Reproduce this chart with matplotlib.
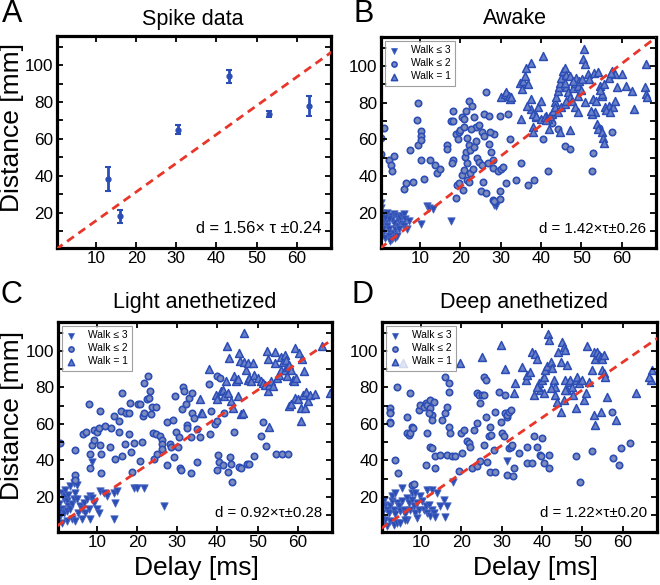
import numpy as np
from matplotlib import pyplot as plt

plt.rcParams['font.family'] = ['Liberation Sans', 'DejaVu Sans']

#---- Data (delay [ms], distance [mm])

spike_x   = [13, 16, 30.5, 43, 53, 63]
spike_y   = [38, 18, 65, 94, 73.5, 78]
spike_err = [6.5, 3.5, 2.5, 3.5, 1.5, 5.5]

b_down = [(0.3,25.4),(0.4,22.7),(0.3,20),(0.5,18.2),(0.9,16.4),(1.3,14.6),(1.75,12.8),(2.2,11),(2.6,9.2),
          (0.75,9.2),(0.25,6.5),(1.3,6.5),(2.2,7.4),(3,5.6),(3.4,8.3),(3.8,11),(4.25,12.8),(3.4,14.6),
          (3,16.4),(2.6,18.2),(3.4,19.1),(4.25,18.2),(4.7,15.5),(5.1,17.3),(5.5,18.5),(5.9,19.1),(6.3,16.4),
          (5.5,13.7),(4.7,11),(3.8,6.5),(1.75,20),(2.2,16.4),(0.9,11),(0.4,12.8),(1.3,17.3),(7.2,15.5),
          (4.25,7.4),(10.1,13.7),(11.75,23.6),(12.2,22.7),(13.25,22.1),(17.6,15.5),(28.4,24.5),(28.8,23.6),
          (5.9,12.8),(6.75,11),(2.6,4.7)]
b_mid = [(0.2,52),(1,66),(0.3,61),(2.4,48.7),(2.75,46),(3,42.5),(3.4,51),(6,33),(6.5,36),(8.2,36.5),
         (7.6,54),(9.25,70.3),(9.5,80),(9.4,57),(10.3,64.5),(10.3,62),(10.3,59.5),(10.25,49),(11,38.5),
         (12.4,49),(13.6,46),(14.25,41.5),(15,43.7),(16.6,57),(16.75,55),(17.6,70),(18.25,75.7),(18.25,70),
         (18.25,49),(18,47.3),(19,63),(19.7,64),(20,65),(20.5,72),(21,71),(21.3,75.7),(22.2,81),(22.75,78),
         (19.25,35),(19,28),(19.75,36),(20.5,40.6),(21,43.3),(21.75,47),(21.1,50.5),(21.5,53),(22.2,56.8),
         (21.75,61),(22.4,54),(23.4,56),(20.75,32.6),(21.6,38),(22.4,41.5),(23,44),(23.4,72),(23.8,66.7),
         (24.7,67.6),(25.25,64),(25.75,62),(25.9,74),(24,49.6),(24.7,47.8),(25.25,46),(25.1,31.7),(26.3,31),
         (25.5,37),(26.3,85.6),(27.2,73),(27.2,57.7),(27.6,53.2),(28,48.7),(28,44.2),(28.4,63),(27.4,64),
         (28,27),(28.4,26.3),(29.7,27.5),(29.25,42.5),(30.1,44),(30.5,45),(29.7,31.7),(31.3,36),(33.8,38),
         (29.7,73),(32.4,60.4),(31.75,74),(34.9,47),(36.75,35.3),(38.25,38),(40.5,60.4),(41.75,42.5),
         (42.6,69),(44.25,65.5),(46,56.5),(47.2,55),(52.8,52.7),(54.4,66),(57.6,64),(52.6,42.5),
         (20.9,66.7),(22.6,65.5),(19.4,60),(23.9,59),(26.8,47),(22,36.5)]
b_up = [(30,83),(31,84.7),(31.4,85.6),(32,83.8),(32.2,82),(32.6,83),(34.9,71),(34.7,91),(35.25,87.4),
        (35.5,92),(35.9,94.6),(36.3,99),(36.75,90),(37.4,101.8),(37.4,82),(37.6,76.6),(38,74),(38.8,72),
        (36.6,78.4),(40.5,105.4),(38.8,73),(39.25,77.5),(40,81),(38,66.7),(38,64),(40,71),(41.25,73),
        (41.75,71),(42.6,74),(43.4,80.2),(43.8,83),(44.25,86.5),(44.4,88.3),(44.7,91),(45,93.5),(45.5,97.5),
        (45.9,99),(46.1,95),(46.3,88.5),(46.75,85.6),(47.2,83),(47.6,81),(48,87.8),(48.4,91),(48.6,93.5),
        (49.1,83.8),(49.25,89),(49.4,92),(49.9,87),(50.1,92.8),(50.5,103.6),(50.75,109),(50.9,100.9),
        (51.75,95.5),(53,96.4),(54.1,96.8),(54.7,89.2),(55.1,83.8),(55.9,77.5),(56.75,78.4),(57.75,77.5),
        (58.25,81),(56.75,93.7),(57.6,97),(58.4,95.5),(60,95.5),(58.8,88.3),(53.4,74.8),(53.8,68.5),
        (54.1,65.8),(55.1,64),(55.25,61),(55.5,58),(52.6,74),(52.4,75.7),(48.4,77.5),(49.25,74.8),
        (50.9,80.2),(47.2,65),(61,89.2),(62.6,86.5),(63,76.6),(65.75,88.7),(65.9,100.9),(65.9,84.7),
        (66.3,83),(42,65.8),(44.7,64),(45.9,91),(47.2,94.6),(48,92),(41,72),(41.3,70.3),(42.2,73),(43,75.7),
        (43.4,77.5),(44.25,74.8),(45,77.5),(45.9,79.3),(46.3,81),(56,76),(57,75),(55,85),(54.5,87),
        (52.8,82),(52,93),(53.5,81),(57.3,96),(55.5,90)]

c_down = [(1.25,22.2),(1.7,18.6),(2.1,20.4),(2.5,17.7),(2.9,15),(1.25,13.2),(0.8,9.6),(1.7,11.4),(2.5,12.3),
          (3.3,13.2),(3.75,15.9),(4.2,18.6),(2.9,21.3),(2.1,24),(3.3,25.8),(4.2,27.5),(4.6,28.4),(5,26.7),
          (4.6,22.2),(5,18.6),(5.8,15),(5.4,11.4),(6.25,13.2),(6.7,16.8),(7.5,18.6),(8.3,20.4),(8.75,19.5),
          (9.2,16.8),(7.1,11.4),(7.9,13.2),(10,13.2),(10.4,11.4),(10.8,23),(11.7,22.2),(12.5,20.4),
          (14.2,22.2),(14.2,7.8),(14.6,16.8),(15,23),(19.2,24.9),(20,24.9),(21.7,24.9),(26.7,15.3),
          (3.75,7.8),(4.6,6.9),(2.5,6.9),(1.25,6),(6.25,7.8),(8.3,7.8),(8.75,39.2),(0.6,16),(0.5,12)]
c_mid = [(0.7,49.5),(4.6,45.5),(4.6,32),(4.6,29.3),(6.5,54.5),(7.3,55.4),(7.9,71),(8.2,36),(8.3,43.7),
         (8.75,48.2),(9.2,56.7),(9.2,51),(10,55.4),(10.4,58),(10.7,67),(10.8,48.2),(11,43.7),(11,33),
         (12.1,59),(13.3,47.3),(13.5,58),(14.2,64.4),(14.6,41),(15.4,55.4),(15.4,61.7),(16,67),(16.25,77),
         (16.25,42.3),(17.1,49),(17.3,66.2),(17.9,65.7),(17.9,54.5),(18.3,71.6),(18.5,44.6),(18.6,33.8),
         (19.2,49.5),(20.2,70.7),(20.7,70.7),(20.8,39.8),(21.25,50),(21.5,64.4),(21.7,66.2),(21.8,82.4),
         (22.5,73.4),(22.7,86),(22.9,74.3),(23.2,78.2),(23.5,65.3),(23.75,69.3),(24,54.9),(24.2,41),
         (24.6,69.3),(24.6,54.2),(25,43.7),(25.7,53.6),(26.25,51),(26.25,48.8),(26.25,46.4),(27.5,37.4),
         (27.5,60.8),(28.3,49.1),(28.5,47.3),(29,62),(29.2,41.9),(29.3,75.2),(29.6,55.4),(30.2,47.3),
         (30.4,52.7),(30.6,35.6),(30.8,34.7),(31.25,68),(31.5,80),(31.7,77.9),(32.1,70.7),(32.3,59.6),
         (32.5,58),(32.9,74.3),(33.3,33),(33.5,52.7),(33.75,66.2),(33.75,77),(34.2,63.5),(35,39.2),
         (37.9,81.8),(38.25,54.5),(38.3,67),(39.3,60),(39.8,61.7),(40,86),(40.2,42.8),(40.4,39.2),
         (40,34.7),(40.7,85),(41.25,37.4),(41.5,66.2),(42.5,33.8),(43.2,41.9),(43.3,38.3),(43.6,28.4),
         (44.2,55.4),(45.4,36.5),(45.8,35.6),(47.3,38.3),(47.9,38.3),(49.2,42.3),(50.8,53.6),(51.25,61.3),
         (52,48),(54.6,43.7),(56,43.3),(57.5,43.3),(35,57.2),(35.7,52.7)]
c_up = [(35.7,73.4),(35.8,66.2),(36.25,66.2),(37.9,90),(39.6,76),(40,73.4),(40.8,77.9),(41.25,78.8),
        (41.7,75.2),(42.1,83.3),(42.3,102.7),(42.5,77),(42.9,95.9),(43.3,72.5),(43.75,68.9),(44.2,86),
        (44.6,83.3),(45,84.6),(45.2,75.2),(45.4,98.6),(45.7,94.4),(45.8,65.3),(46.25,66.2),(46.5,109.9),
        (46.7,94),(47.1,89.6),(47.5,84.2),(47.7,93.2),(47.9,85.1),(48.3,83.3),(48.75,93.2),(49.2,86.9),
        (50,85.1),(50.8,83.3),(51.25,82.4),(51.7,81.5),(52.3,99.8),(52.5,95.5),(52.5,77.9),(52.7,58.5),
        (52.9,81.5),(53.3,83.3),(53.75,80.6),(54.2,99.5),(54.3,93.2),(54.8,85.1),(55.2,86.9),(55.7,96.8),
        (55.8,89.6),(56.25,94),(56.7,97.7),(56.8,89.6),(57.1,95),(57.3,86),(57.5,91.4),(57.7,92.3),
        (57.9,69.8),(58.2,70.7),(58.3,89.6),(58.75,84.2),(59,83.3),(59.2,74.3),(59.3,101.3),(59.6,85.1),
        (60,73.4),(60.4,98.6),(60.7,68.9),(60.8,61.7),(61,95.5),(61.25,76),(61.5,88.7),(61.8,68.9),
        (62.1,77.5),(62.5,72.5),(62.9,76),(64.2,76.4),(66,102.5),(67.9,77)]

d_down = [(0.7,18.5),(1.1,15.8),(1.6,13.1),(2,11.3),(2.4,14.9),(2.8,17.6),(3.2,13.1),(3.6,10.4),(4,16.7),
          (4.4,14.9),(4.8,12.2),(5.3,17.6),(5.7,13.1),(6.1,10.4),(6.5,19.5),(6.9,16.7),(7.3,13.1),(7.8,18.5),
          (8.2,14.9),(8.6,11.3),(9,16.7),(9.4,13.1),(9.8,20.4),(10.2,17.6),(10.7,13.1),(11.1,14.9),(11.5,11.3),
          (11.9,15.8),(12.3,9.5),(12.7,13.1),(13.1,11.3),(13.5,9.1),(11.5,24),(12.7,23.6),(13.95,22.2),
          (5.3,24.9),(2.8,20.4),(3.6,22.2),(7.8,22.2),(8.6,22.2),(6.5,7.6),(2.4,6.7),(3.2,4.9),(4,5.8),
          (1.1,7.6),(1.6,4),(4.8,5.8),(15.6,18.5),(14.8,14.9),(6.1,7.6),(9,8.5),(16,9.1),(16.4,15.3),
          (17.9,28),(31.3,39.5),(0.3,11.3),(0.3,14.9),(0.3,7.6)]
d_mid = [(2.4,68.5),(2.4,66.7),(2.4,65.8),(2.4,61.3),(2.4,60.4),(3.6,40.4),(3.9,80),(4.3,33.1),(6.5,64),
         (7.3,76.7),(6.5,54.9),(6.9,54),(7.3,54.9),(7.8,58.5),(8,57.6),(7.8,26.7),(8.2,27.3),(9.4,67.6),
         (9.8,70.4),(10.7,69.5),(11.1,71.3),(11.5,70.4),(12.3,73.1),(13.1,72.2),(12.3,68.5),(12.7,64.9),
         (12.7,62.2),(11.9,65.8),(11.5,54.9),(12.3,47.6),(12.7,46.7),(13.5,42.2),(13.5,35.8),(11.1,37.6),
         (15.2,62.2),(16,85.8),(16,65.8),(16.4,69.5),(16.9,82.2),(16.9,77.6),(17,58.5),(17.1,54.9),
         (14.8,43.1),(16.3,43.1),(17.7,42.2),(18.5,42.2),(19.3,34),(20.2,44),(19.9,54.9),(20.6,56.7),
         (21.4,50.4),(21.8,49.5),(22.2,47.6),(22.6,35.8),(23,56.7),(23.9,36.7),(23.9,76.7),(24.3,75.8),
         (24.7,71.3),(25.1,75.8),(25.5,75.8),(25.7,85.8),(26,84),(26,64),(23.9,60.4),(24.7,39.5),(25.7,48.5),
         (26.4,38.9),(26.8,53.1),(27,33.5),(27.2,58.5),(27.4,54),(28,45.8),(28.4,66.7),(28.4,33.5),
         (29.3,77.6),(29.7,61.3),(30.1,54.9),(30.5,53.1),(30.9,65.8),(31.2,64),(31.3,64.9),(31.7,66.7),
         (32.2,67.6),(31.3,32.2),(31.7,46.7),(32.2,47.6),(32.6,48.5),(32.8,31.3),(33,35.8),(30.9,75.8),
         (34.2,44),(36.3,47.6),(36.3,38.5),(37.5,38.5),(38.1,53.1),(38.8,47.6),(39.4,43.1),(39.7,42.2),
         (40,52.2),(40.4,38.5),(41.7,43.1),(41.7,35.8),(48.3,42.2),(49.5,28),(52.4,44.9),(57.6,41.3),
         (59,37.6),(59.5,46.7),(61.8,49.5),(57.4,66.7)]
d_up = [(5.5,93.1),(19.7,93.1),(25.1,96.4),(29.7,103.1),(30.9,89.8),(33,76.7),(33.4,82.2),(35,91.3),
        (35.9,84),(36.3,86.7),(37.1,88.5),(37.9,75.8),(37.4,99.5),(38.3,98.5),(38.8,95.8),(39.2,82.2),
        (39.6,78.5),(40,84),(40.4,85.8),(40.4,76.7),(40.8,89.5),(41.3,91.6),(41.4,109.5),(41.7,105.8),
        (42.1,94),(42.5,90.4),(42.9,84),(43.1,80.4),(43.3,75.8),(43.7,72.2),(44,99.5),(44.6,94),(45,104.9),
        (45.4,102.2),(45.6,100.4),(45.8,84),(46.1,92.2),(46.2,78.5),(46.6,83.1),(47,84),(47.4,80.4),
        (47.7,75.8),(48.3,84),(48.7,85.8),(49.1,82.2),(48.3,68.5),(49.9,84),(50.3,73.1),(51.2,102.5),
        (51,76.7),(51.6,83.1),(52.4,89.5),(52.8,99.5),(53.2,95.8),(52.8,64.9),(53.2,59.5),(53.6,99.5),
        (54.1,97.6),(54.5,96.7),(54.9,95.8),(55.3,97.6),(54.7,66.7),(54.9,89.5),(55.3,87.6),(55.7,85.8),
        (56,74.9),(58.4,62.2),(63.2,76.7),(66.9,84),(67.3,89.5),(66.5,85.8),(44.6,66.7),(45.8,78.5),
        (38.8,80.4),(42.1,79.5),(45.4,73.1)]

# fitted dashed lines as drawn (intercept, slope)
fits = {'A': (0.0, 1.56), 'B': (0.5, 1.68), 'C': (4.0, 1.49), 'D': (2.6, 1.52)}

titles = {'A': 'Spike data', 'B': 'Awake', 'C': 'Light anethetized', 'D': 'Deep anethetized'}
eqs = {'A': 'd = 1.56× τ ±0.24', 'B': 'd = 1.42×τ±0.26',
       'C': 'd = 0.92×τ±0.28', 'D': 'd = 1.22×τ±0.20'}
eq_size = {'A': 11.8, 'B': 10.8, 'C': 10.8, 'D': 10.8}
labels = ['Walk ≤ 3', 'Walk ≤ 2', 'Walk = 1']

W, H = 660., 585.
blue = '#2b4db5'



#---- Helpers

def fx(px):
    return px / W

def fy(py):
    return 1 - py / H

def style_axes(ax, key):
    ax.set_xlim(0.3, 68.5)
    ax.set_ylim(0.8, 115.8)
    ax.set_xticks([10, 20, 30, 40, 50, 60])
    ax.set_yticks(np.arange(10, 111, 10))
    ax.set_yticklabels(['' if v % 20 or v > 100 else str(v) for v in range(10, 111, 10)])
    ax.tick_params(direction='in', length=4, width=1.3, top=True, right=True,
                   labelsize=12.3, pad=2.5)
    for s in ax.spines.values():
        s.set_linewidth(2.3)
    b, m = fits[key]
    xs = np.array([0, 70])
    ax.plot(xs, b + m * xs, '--', color='#e8362a', lw=2.0, dashes=(3, 2), zorder=5)
    ax.text(0.965, 0.09, eqs[key], transform=ax.transAxes, ha='right', va='center',
            fontsize=eq_size[key])

def scatter_walks(ax, down, mid, up):
    down, mid, up = np.array(down), np.array(mid), np.array(up)
    ax.scatter(down[:, 0], down[:, 1], s=28, marker='v', facecolor=blue,
               edgecolor='#4a68c0', lw=0.6, label=labels[0])
    ax.scatter(mid[:, 0], mid[:, 1], s=21, marker='o', facecolor='#7f8dbd',
               edgecolor=blue, lw=1.2, label=labels[1])
    ax.scatter(up[:, 0], up[:, 1], s=32, marker='^', facecolor='#6a80c8',
               edgecolor=blue, lw=1.1, label=labels[2])
    leg = ax.legend(loc='upper left', fontsize=7.4, frameon=True, fancybox=False,
                    borderaxespad=0.35, handlelength=1.0, handletextpad=1.1,
                    labelspacing=0.3, borderpad=0.45, scatterpoints=1, markerscale=0.8)
    leg.get_frame().set_edgecolor('#888888')
    leg.get_frame().set_linewidth(0.8)



#---- Script

if __name__ == '__main__':

    fig = plt.figure(figsize=(6.6, 5.85), dpi=100)

    boxes = {'A': (57, 331, 36, 248), 'B': (381, 656, 37, 248),
             'C': (58, 332, 322, 532), 'D': (382, 657, 322, 532)}
    axs = {}
    for k, (l, r, t, b) in boxes.items():
        axs[k] = fig.add_axes([fx(l), fy(b), (r - l) / W, (b - t) / H])

    #---> Spike data
    ax = axs['A']
    ax.errorbar(spike_x, spike_y, yerr=spike_err, fmt='o', color=blue, ms=3.5,
                elinewidth=2, capsize=2, capthick=1.5)
    style_axes(ax, 'A')

    scatter_walks(axs['B'], b_down, b_mid, b_up)
    style_axes(axs['B'], 'B')
    scatter_walks(axs['C'], c_down, c_mid, c_up)
    style_axes(axs['C'], 'C')
    scatter_walks(axs['D'], d_down, d_mid, d_up)
    style_axes(axs['D'], 'D')

    #---> Titles, panel letters, axis labels
    for k, (x, y) in {'A': (193, 19), 'B': (515, 19), 'C': (195, 302), 'D': (524, 302)}.items():
        fig.text(fx(x), fy(y), titles[k], ha='center', va='center', fontsize=15.5)
    for k, (x, y) in {'A': (12, 14), 'B': (364, 14), 'C': (11, 295), 'D': (362, 295)}.items():
        fig.text(fx(x), fy(y), k, ha='center', va='center', fontsize=22)
    for y in (128, 416):
        fig.text(fx(12), fy(y), 'Distance [mm]', ha='center', va='center',
                 rotation=90, fontsize=19)
    for x in (196, 535):
        fig.text(fx(x), fy(568), 'Delay [ms]', ha='center', va='center', fontsize=19)

    plt.savefig('out.png', dpi=100)
